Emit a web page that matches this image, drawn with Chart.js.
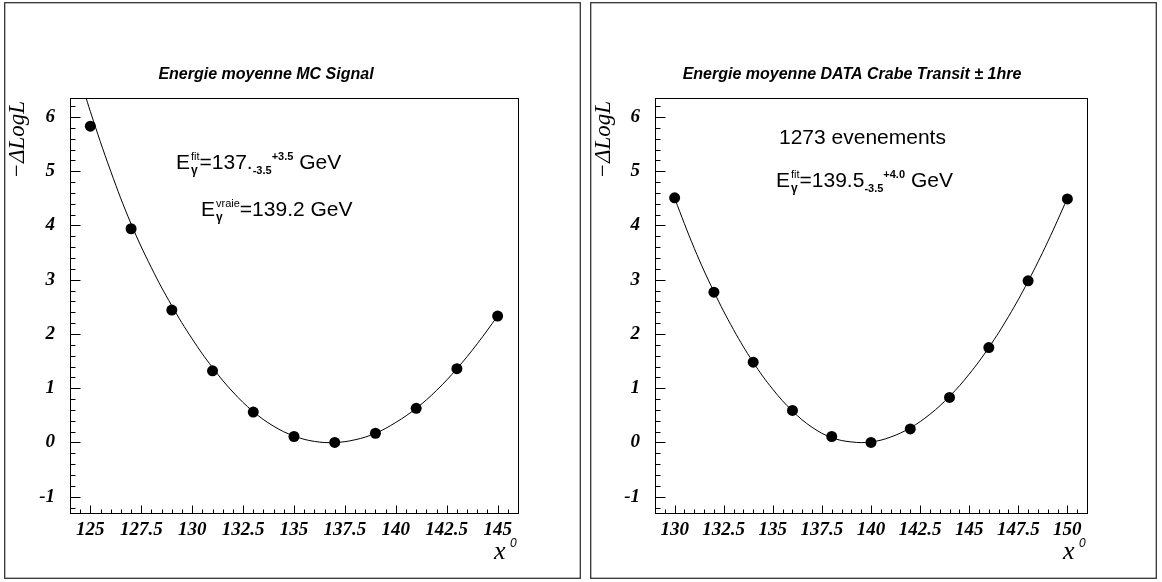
<!DOCTYPE html>
<html><head><meta charset="utf-8">
<script src="https://cdn.jsdelivr.net/npm/chart.js@4.4.1/dist/chart.umd.min.js"></script>
<style>
html,body{margin:0;padding:0;background:#fff;width:1162px;height:582px;overflow:hidden}
canvas{position:absolute}
#c1{left:4px;top:2px}
#c2{left:590px;top:2px}
</style></head><body>
<canvas id="c1" width="577" height="577"></canvas>
<canvas id="c2" width="567" height="577"></canvas>
<script>
// ---- data: left panel (MC Signal) ----
const mcEnergy    = [125, 127, 129, 131, 133, 135, 137, 139, 141, 143, 145];
const mcDeltaLogL = [5.83, 3.94, 2.44, 1.32, 0.56, 0.11, 0.00, 0.17, 0.63, 1.36, 2.33];
const mcFitEnergy    = [124.5, 125, 126, 127, 128, 129, 130, 131, 132, 133, 134, 135, 136, 137, 138, 139, 140, 141, 142, 143, 144, 145];
const mcFitDeltaLogL = [6.72, 6.10, 5.00, 4.03, 3.22, 2.52, 1.91, 1.38, 0.93, 0.57, 0.30, 0.12, 0.02, 0.00, 0.05, 0.17, 0.37, 0.63, 0.96, 1.36, 1.82, 2.33];
// ---- data: right panel (DATA Crabe) ----
const dataEnergy    = [130, 132, 134, 136, 138, 140, 142, 144, 146, 148, 150];
const dataDeltaLogL = [4.51, 2.77, 1.48, 0.59, 0.11, 0.00, 0.25, 0.83, 1.75, 2.98, 4.49];
const dataFitEnergy    = [130, 131, 132, 133, 134, 135, 136, 137, 138, 139, 140, 141, 142, 143, 144, 145, 146, 147, 148, 149, 150];
const dataFitDeltaLogL = [4.50, 3.58, 2.78, 2.08, 1.48, 0.98, 0.58, 0.28, 0.09, 0.01, 0.01, 0.10, 0.27, 0.52, 0.85, 1.26, 1.75, 2.32, 2.97, 3.70, 4.50];
// ---- tick labels ----
const xTicksLeft  = [125, 127.5, 130, 132.5, 135, 137.5, 140, 142.5, 145];
const xTicksRight = [130, 132.5, 135, 137.5, 140, 142.5, 145, 147.5, 150];
const yTicks      = [-1, 0, 1, 2, 3, 4, 5, 6];
const titleLeft  = 'Energie moyenne MC Signal';
const titleRight = 'Energie moyenne DATA Crabe Transit \u00B1 1hre';

const SANS = "'Liberation Sans', Arial, sans-serif";
const SERIF = "'Liberation Serif', 'Times New Roman', serif";

function rich(ctx, x, y, parts) {
  let cx = x;
  for (const p of parts) {
    ctx.font = p.f;
    ctx.fillText(p.t, cx + (p.dx || 0), y + (p.dy || 0));
    if (!p.stay) cx += ctx.measureText(p.t).width + (p.gap || 0) + (p.dx || 0);
  }
}

function makePlugin(cfg) {
  return {
    id: 'rootStyle',
    beforeDraw(chart) {
      const ctx = chart.ctx;
      ctx.save();
      ctx.fillStyle = '#fff';
      ctx.fillRect(0, 0, chart.width, chart.height);
      ctx.restore();
    },
    afterDraw(chart) {
      const ctx = chart.ctx;
      const a = chart.chartArea;
      const xs = chart.scales.x, ys = chart.scales.y;
      ctx.save();
      // panel border
      ctx.strokeStyle = '#333';
      ctx.lineWidth = 1.3;
      ctx.strokeRect(0.7, 0.7, chart.width - 1.4, chart.height - 1.4);
      // frame
      ctx.strokeStyle = '#000';
      ctx.lineWidth = 1;
      ctx.strokeRect(Math.round(a.left) + 0.5, Math.round(a.top) + 0.5, Math.round(a.right - a.left), Math.round(a.bottom - a.top));
      // x ticks
      ctx.beginPath();
      const b = Math.round(a.bottom) + 0.5;
      for (let v = Math.ceil(xs.min * 2) / 2; v <= xs.max + 1e-9; v += 0.5) {
        const px = Math.round(xs.getPixelForValue(v)) + 0.5;
        const major = Math.abs(v / 2.5 - Math.round(v / 2.5)) < 1e-6;
        ctx.moveTo(px, b); ctx.lineTo(px, b - (major ? 8 : 4));
      }
      // y ticks
      const l = Math.round(a.left) + 0.5;
      for (let k = Math.ceil(ys.min * 5); k <= Math.floor(ys.max * 5); k++) {
        const v = k / 5;
        const py = Math.round(ys.getPixelForValue(v)) + 0.5;
        const major = k % 5 === 0;
        ctx.moveTo(l, py); ctx.lineTo(l + (major ? 10 : 5), py);
      }
      ctx.stroke();
      // tick labels
      ctx.fillStyle = '#000';
      ctx.font = 'bold italic 19px ' + SERIF;
      ctx.textAlign = 'center'; ctx.textBaseline = 'middle';
      for (const v of cfg.xTicks) ctx.fillText(String(v), xs.getPixelForValue(v), a.bottom + 17);
      ctx.textAlign = 'right';
      for (const v of yTicks) ctx.fillText(String(v), a.left - 15, ys.getPixelForValue(v));
      // x title
      ctx.textAlign = 'left'; ctx.textBaseline = 'alphabetic';
      ctx.font = 'italic 26px ' + SERIF;
      ctx.fillText('x', a.right - 24, 557);
      ctx.font = 'italic 12px ' + SANS;
      ctx.fillText('0', a.right - 8, 545);
      // y title
      ctx.save();
      ctx.translate(20, a.top + 3);
      ctx.rotate(-Math.PI / 2);
      ctx.textAlign = 'right';
      ctx.font = 'italic 23px ' + SERIF;
      ctx.fillText('\u2212\u0394LogL', 0, 0);
      ctx.restore();
      // title
      ctx.textAlign = 'center'; ctx.textBaseline = 'middle';
      ctx.font = 'bold italic 16px ' + SANS;
      ctx.fillText(cfg.title, cfg.titleX, 73);
      // annotations
      ctx.textAlign = 'left'; ctx.textBaseline = 'alphabetic';
      cfg.annot(ctx);
      ctx.restore();
    }
  };
}

const base = '21px ' + SANS;
const small = '11px ' + SANS;
const smallB = 'bold 11px ' + SANS;
const gam = 'bold 12px ' + SANS;

function annotLeft(ctx) {
  rich(ctx, 172, 167, [
    {t: 'E', f: base},
    {t: '\u03B3', f: gam, dy: 5, stay: true, dx: 1},
    {t: 'fit', f: small, dy: -9, dx: 1},
    {t: '=137.', f: base},
    {t: '-3.5', f: smallB, dy: 5},
    {t: '+3.5', f: smallB, dy: -9},
    {t: ' GeV', f: base}
  ]);
  rich(ctx, 197, 214, [
    {t: 'E', f: base},
    {t: '\u03B3', f: gam, dy: 5, stay: true, dx: 1},
    {t: 'vraie', f: small, dy: -9, dx: 1},
    {t: '=139.2 GeV', f: base}
  ]);
}
function annotRight(ctx) {
  rich(ctx, 189, 142, [{t: '1273 evenements', f: base}]);
  rich(ctx, 186, 185, [
    {t: 'E', f: base},
    {t: '\u03B3', f: gam, dy: 5, stay: true, dx: 1},
    {t: 'fit', f: small, dy: -9, dx: 1},
    {t: '=139.5', f: base},
    {t: '-3.5', f: smallB, dy: 5},
    {t: '+4.0', f: smallB, dy: -9},
    {t: ' GeV', f: base}
  ]);
}

function build(id, ex, ey, fx, fy, xmin, xmax, pad, cfg) {
  const pts = ex.map((x, i) => ({x, y: ey[i]}));
  const fit = fx.map((x, i) => ({x, y: fy[i]}));
  return new Chart(document.getElementById(id), {
    type: 'scatter',
    data: {datasets: [
      {data: fit, showLine: true, borderColor: '#000', borderWidth: 1, pointRadius: 0, tension: 0.4, fill: false},
      {data: pts, pointRadius: 5.5, pointBackgroundColor: '#000', pointBorderColor: '#000', pointBorderWidth: 0, showLine: false}
    ]},
    options: {
      responsive: false, animation: false, devicePixelRatio: 1,
      layout: {padding: pad},
      plugins: {legend: {display: false}, title: {display: false}, tooltip: {enabled: false}},
      scales: {
        x: {type: 'linear', min: xmin, max: xmax, display: false},
        y: {type: 'linear', min: -1.3, max: 6.35, display: false}
      }
    },
    plugins: [makePlugin(cfg)]
  });
}

build('c1', mcEnergy, mcDeltaLogL, mcFitEnergy, mcFitDeltaLogL, 124, 146,
  {left: 66, top: 96, right: 63, bottom: 66},
  {xTicks: xTicksLeft, title: titleLeft, titleX: 262, annot: annotLeft});
build('c2', dataEnergy, dataDeltaLogL, dataFitEnergy, dataFitDeltaLogL, 129, 151,
  {left: 65, top: 96, right: 70, bottom: 66},
  {xTicks: xTicksRight, title: titleRight, titleX: 262, annot: annotRight});
</script>
</body></html>
